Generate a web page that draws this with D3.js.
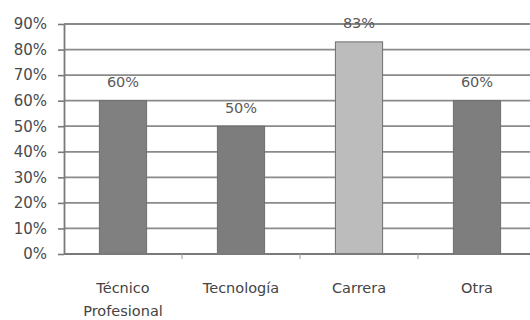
<!DOCTYPE html>
<html>
<head>
<meta charset="utf-8">
<script src="https://cdn.jsdelivr.net/npm/d3@7"></script>
<style>
  html, body { margin: 0; padding: 0; background: #fff; }
  svg { display: block; }
  text { font-family: "DejaVu Sans", Verdana, sans-serif; }
</style>
</head>
<body>
<svg id="chart" width="530" height="320"></svg>
<script>
// Categories, values and tick labels
const categories = ["Técnico|Profesional", "Tecnología", "Carrera", "Otra"];
const values = [60, 50, 83, 60];
const barColors = ["#808080", "#7d7d7d", "#bcbcbc", "#7e7e7e"];
const yTicks = [0, 10, 20, 30, 40, 50, 60, 70, 80, 90];

(function draw() {
  const svg = d3.select("#chart");
  const plotLeft = 64, plotRight = 536, plotTop = 24, plotBottom = 254;
  const font = "DejaVu Sans, Verdana, sans-serif";

  const x = d3.scaleBand().domain(categories).range([plotLeft, plotRight]).paddingInner(0.6).paddingOuter(0.3);
  const y = d3.scaleLinear().domain([0, 90]).range([plotBottom, plotTop]);

  // Horizontal gridlines
  svg.append("g")
    .selectAll("line")
    .data(yTicks)
    .join("line")
    .attr("x1", plotLeft).attr("x2", 530)
    .attr("y1", d => y(d)).attr("y2", d => y(d))
    .attr("stroke", "#8a8a8a").attr("stroke-width", 1.8);

  // Y axis
  const yAxis = svg.append("g")
    .attr("transform", `translate(${plotLeft},0)`)
    .call(d3.axisLeft(y).tickValues(yTicks).tickFormat(d => d + "%").tickSize(6).tickSizeOuter(0));
  yAxis.select(".domain").attr("stroke", "#7a7a7a").attr("stroke-width", 1.8);
  yAxis.selectAll(".tick line").attr("stroke", "#7a7a7a").attr("stroke-width", 1.6);
  yAxis.selectAll(".tick text")
    .attr("x", -17).attr("font-size", 15).attr("fill", "#4a4a4a")
    .attr("font-family", font);

  // Bars
  svg.append("g")
    .selectAll("rect")
    .data(values)
    .join("rect")
    .attr("x", (d, i) => x(categories[i]))
    .attr("y", d => y(d))
    .attr("width", x.bandwidth())
    .attr("height", d => plotBottom - y(d))
    .attr("fill", (d, i) => barColors[i])
    .attr("stroke", "#6e6e6e").attr("stroke-width", 1);

  // Value labels
  svg.append("g")
    .selectAll("text")
    .data(values)
    .join("text")
    .attr("x", (d, i) => x(categories[i]) + x.bandwidth() / 2)
    .attr("y", d => y(d) - 13.5)
    .attr("text-anchor", "middle")
    .attr("font-size", 14.5).attr("fill", "#5a5a5a")
    .attr("font-family", font)
    .text(d => d + "%");

  // X axis baseline and category separators
  svg.append("line")
    .attr("x1", plotLeft).attr("x2", 530)
    .attr("y1", plotBottom).attr("y2", plotBottom)
    .attr("stroke", "#7a7a7a").attr("stroke-width", 1.8);
  const gap = (x.step() - x.bandwidth()) / 2;
  svg.append("g")
    .selectAll("line")
    .data(categories.slice(1))
    .join("line")
    .attr("x1", d => x(d) - gap)
    .attr("x2", d => x(d) - gap)
    .attr("y1", plotBottom).attr("y2", plotBottom + 5)
    .attr("stroke", "#999").attr("stroke-width", 1);

  // Category labels
  const labels = svg.append("g")
    .selectAll("text")
    .data(categories)
    .join("text")
    .attr("text-anchor", "middle")
    .attr("font-size", 14.5).attr("fill", "#444")
    .attr("font-family", font)
    .attr("transform", d => `translate(${x(d) + x.bandwidth() / 2},293)`);
  labels.selectAll("tspan")
    .data(d => d.split("|"))
    .join("tspan")
    .attr("x", 0)
    .attr("dy", (d, i) => i === 0 ? 0 : 23)
    .text(d => d);
})();
</script>
</body>
</html>
